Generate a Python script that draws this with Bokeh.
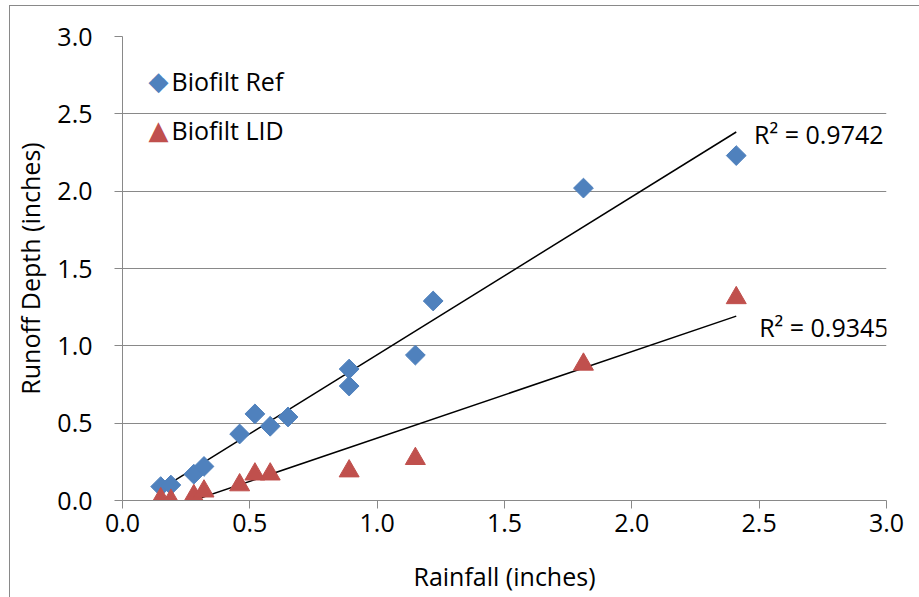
import numpy as np
from bokeh.plotting import figure
from bokeh.models import Range1d, Label, SingleIntervalTicker, NumeralTickFormatter
from bokeh.embed import file_html
from bokeh.resources import INLINE

# Data
rainfall_ref = [0.15, 0.19, 0.28, 0.32, 0.46, 0.52, 0.58, 0.65, 0.89, 0.89, 1.15, 1.22, 1.81, 2.41]
runoff_ref = [0.09, 0.10, 0.17, 0.22, 0.43, 0.56, 0.48, 0.54, 0.85, 0.74, 0.94, 1.29, 2.02, 2.23]
rainfall_lid = [0.15, 0.19, 0.28, 0.32, 0.46, 0.52, 0.58, 0.89, 1.15, 1.81, 2.41]
runoff_lid = [0.01, 0.00, 0.03, 0.06, 0.10, 0.17, 0.17, 0.19, 0.27, 0.88, 1.31]
series_names = ["Biofilt Ref", "Biofilt LID"]
series_colors = ["#4F81BD", "#C0504D"]
legend_symbols = ["\u25C6", "\u25B2"]
r2_labels = ["R² = 0.9742", "R² = 0.9345"]

FONT = "Open Sans"
GRID = "#898989"
FS = "25px"

p = figure(width=905, height=592, output_backend="svg", toolbar_location=None,
           x_range=Range1d(0, 3), y_range=Range1d(0, 3),
           frame_width=764, frame_height=464,
           min_border_left=0, min_border_top=30, min_border_right=34, min_border_bottom=98)
p.margin = (5, 0, 0, 9)
p.styles = {"border-left": "1px solid #898989", "border-top": "1px solid #898989",
            "border-right": "1px solid #898989"}
p.outline_line_color = None
p.background_fill_color = "white"

for ax in (p.xaxis, p.yaxis):
    ax.ticker = SingleIntervalTicker(interval=0.5)
    ax.formatter = NumeralTickFormatter(format="0.0")
    ax.axis_line_color = GRID
    ax.major_tick_line_color = GRID
    ax.minor_tick_line_color = None
    ax.major_tick_out = 8
    ax.major_tick_in = 0
    ax.major_label_text_font = FONT
    ax.major_label_text_font_size = FS
    ax.major_label_text_color = "black"
    ax.axis_label_text_font = FONT
    ax.axis_label_text_font_size = FS
    ax.axis_label_text_font_style = "normal"
    ax.axis_label_text_color = "black"

p.xaxis.axis_label = "Rainfall (inches)"
p.yaxis.axis_label = "Runoff Depth (inches)"
p.xaxis.major_label_standoff = 5
p.yaxis.major_label_standoff = 22
p.xaxis.axis_label_standoff = 24
p.yaxis.axis_label_standoff = 7

p.xgrid.grid_line_color = None
p.ygrid.grid_line_color = GRID
p.ygrid.grid_line_width = 1

# trend lines (linear least squares)
for xs, ys in ((rainfall_ref, runoff_ref), (rainfall_lid, runoff_lid)):
    m, b = np.polyfit(xs, ys, 1)
    x0, x1 = min(xs), max(xs)
    p.line([x0, x1], [m * x0 + b, m * x1 + b], line_color="black", line_width=1.5)

p.scatter(rainfall_ref, runoff_ref, marker="square", size=14, angle=np.pi / 4,
          fill_color=series_colors[0], line_color=series_colors[0])
p.scatter(rainfall_lid, runoff_lid, marker="triangle", size=20,
          fill_color=series_colors[1], line_color=series_colors[1])

# legend (top-left, inside plot area; screen units relative to the plot frame)
for i, (sym, name, col) in enumerate(zip(legend_symbols, series_names, series_colors)):
    sy = 420 - 49 * i
    p.add_layout(Label(x=26, y=sy, x_units="screen", y_units="screen", text=sym,
                       text_font="DejaVu Sans", text_font_size="26px", text_color=col,
                       text_baseline="middle", text_align="left"))
    p.add_layout(Label(x=49, y=sy, x_units="screen", y_units="screen", text=name,
                       text_font=FONT, text_font_size=FS, text_color="black",
                       text_baseline="middle", text_align="left"))

p.add_layout(Label(x=2.48, y=2.37, text=r2_labels[0], text_font=FONT, text_font_size=FS,
                   text_color="black", text_baseline="middle"))
p.add_layout(Label(x=2.50, y=1.12, text=r2_labels[1], text_font=FONT, text_font_size=FS,
                   text_color="black", text_baseline="middle"))

open("out.html", "w").write(file_html(p, INLINE))
